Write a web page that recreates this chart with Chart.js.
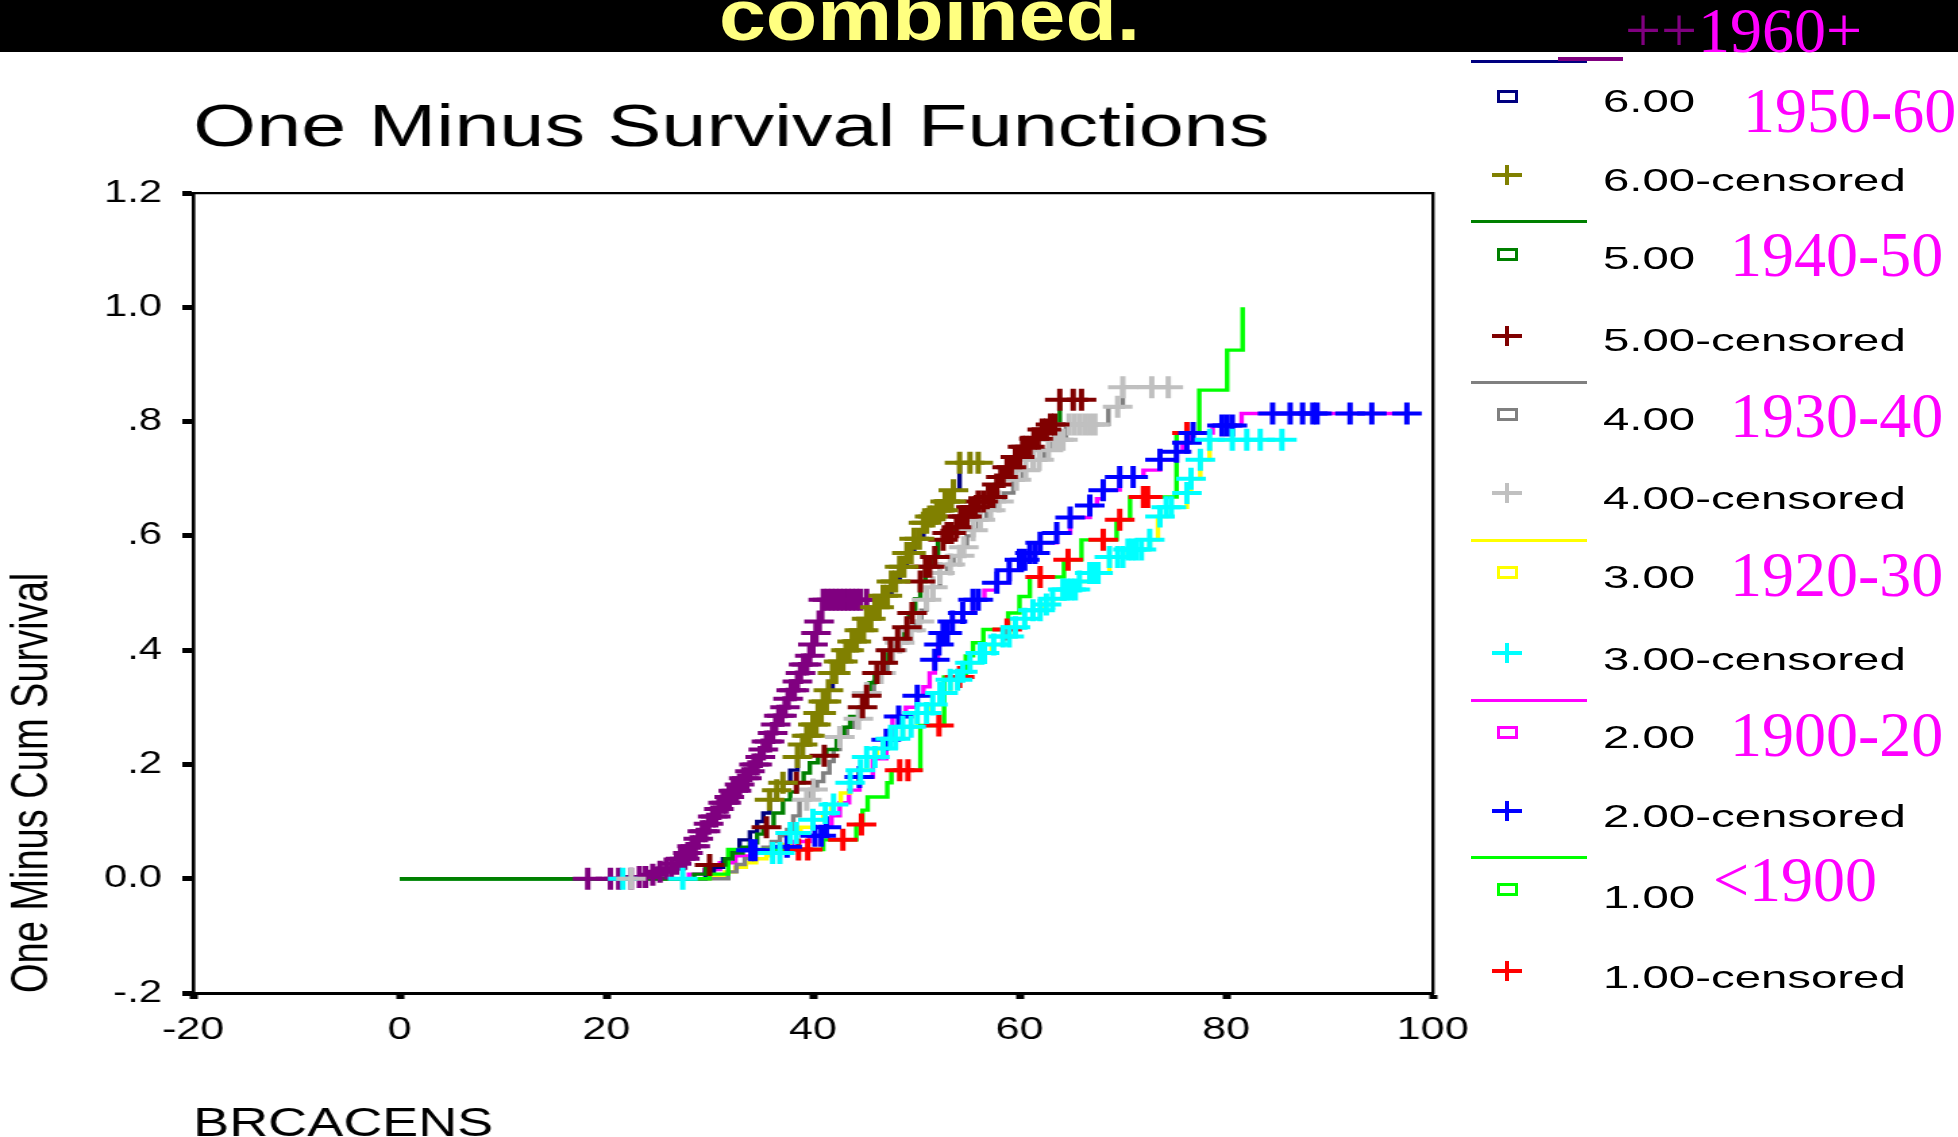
<!DOCTYPE html>
<html>
<head>
<meta charset="utf-8">
<title>One Minus Survival Functions</title>
<script src="https://cdn.jsdelivr.net/npm/chart.js@4.4.1/dist/chart.umd.min.js"></script>
<style>
  html, body { margin: 0; padding: 0; background: #fff; }
  #page { position: relative; width: 1958px; height: 1137px; overflow: hidden; font-family: 'Liberation Sans', Arial, sans-serif; }
  #band { position: absolute; left: 0; top: 0; width: 1958px; height: 52px; background: #000; overflow: hidden; }
  #band span { position: absolute; left: 719px; top: -21px; font: bold 72px/72px 'Liberation Sans', Arial, sans-serif; color: #ffff80; transform: scaleX(1.17); transform-origin: 0 0; white-space: nowrap; }
  /* the chart is drawn 1450 wide and stretched, like the pasted picture */
  #chart { position: absolute; left: 0; top: 0; }
  .key-line { position: absolute; left: 1471px; width: 116px; height: 3px; }
  .key-box { position: absolute; left: 1497px; width: 21px; height: 13px; box-sizing: border-box; border: 3px solid; }
  .key-h { position: absolute; left: 1492px; width: 30px; height: 3.5px; }
  .key-v { position: absolute; left: 1505px; width: 3.5px; height: 20px; }
  .key-text { position: absolute; left: 1603px; font-size: 32px; line-height: 32px; color: #000; white-space: nowrap; transform: scaleX(1.48); transform-origin: 0 0; }
  .era { position: absolute; font: 64px/64px 'Liberation Serif', 'Times New Roman', serif; color: #ff00ff; white-space: nowrap; }
</style>
</head>
<body>
<div id="page">
  <div id="band"><span>combined.</span></div>
  <canvas id="chart" width="1450" height="1137" style="width:1958px;height:1137px"></canvas>
  <div id="key"></div>
</div>
<script>
// group codes and the birth cohorts written next to them
const groups = ['6.00', '5.00', '4.00', '3.00', '2.00', '1.00'];
const eras = ['1950-60', '1940-50', '1930-40', '1920-30', '1900-20', '<1900'];
const xTickLabels = ['-20', '0', '20', '40', '60', '80', '100'];
const yTickLabels = ['-.2', '0.0', '.2', '.4', '.6', '.8', '1.0', '1.2'];

// step curves: [time, one minus cum survival] at each event
const curve6 = [[0,0],[29.6,0.01],[30.4,0.02],[31.3,0.035],[32.2,0.05],[32.9,0.068],[33.9,0.082],[34.6,0.1],[35.2,0.115],[35.8,0.138],[36.5,0.155],[37.1,0.168],[37.8,0.19],[38.5,0.213],[39.0,0.235],[39.4,0.25],[40.0,0.27],[40.5,0.29],[41.0,0.31],[41.5,0.33],[41.9,0.36],[42.5,0.38],[43.2,0.4],[43.8,0.415],[44.5,0.435],[45.2,0.455],[46.0,0.475],[46.8,0.495],[47.6,0.52],[48.4,0.546],[49.1,0.57],[49.8,0.595],[50.7,0.623],[51.3,0.634],[52.0,0.645],[52.8,0.66],[53.6,0.68],[54.2,0.728],[56.0,0.728]];
const curve5 = [[0,0],[28.5,0.008],[29.6,0.024],[31.5,0.035],[32.2,0.045],[33.2,0.055],[33.9,0.063],[34.6,0.078],[35.2,0.09],[36.2,0.115],[37.1,0.138],[37.8,0.152],[38.4,0.168],[39.1,0.185],[39.7,0.203],[40.5,0.215],[41.3,0.226],[42.3,0.248],[43.0,0.265],[43.6,0.284],[44.5,0.3],[45.0,0.32],[45.5,0.343],[46.0,0.36],[46.5,0.378],[47.3,0.4],[48.0,0.42],[48.7,0.44],[49.3,0.465],[49.9,0.49],[50.4,0.52],[50.9,0.546],[51.4,0.563],[52.1,0.593],[52.8,0.605],[53.5,0.615],[54.2,0.634],[55.0,0.65],[56.0,0.66],[56.8,0.668],[57.6,0.69],[58.2,0.703],[58.8,0.72],[59.4,0.738],[60.3,0.756],[61.2,0.77],[62.0,0.786],[62.8,0.795],[63.9,0.838],[66.0,0.838]];
const curve4 = [[0,0],[31.8,0.012],[32.6,0.025],[33.4,0.035],[34.3,0.045],[35.2,0.055],[36.0,0.065],[36.8,0.075],[37.5,0.086],[38.1,0.11],[38.7,0.138],[39.7,0.156],[40.4,0.17],[41.0,0.185],[41.6,0.205],[42.0,0.226],[42.6,0.248],[43.3,0.265],[43.9,0.28],[44.6,0.3],[45.2,0.325],[45.9,0.345],[46.5,0.36],[47.2,0.378],[47.7,0.4],[48.4,0.413],[49.1,0.435],[49.8,0.45],[50.5,0.47],[51.0,0.488],[51.6,0.51],[52.3,0.535],[53.0,0.55],[53.6,0.565],[54.4,0.58],[54.9,0.6],[55.5,0.61],[56.0,0.628],[56.8,0.645],[57.6,0.66],[58.5,0.675],[59.4,0.698],[60.3,0.715],[61.3,0.733],[62.4,0.75],[63.2,0.768],[64.5,0.795],[68.6,0.826],[70.0,0.86],[74.4,0.86]];
const curve3 = [[0,0],[30.0,0.005],[31.5,0.012],[32.5,0.02],[33.5,0.028],[34.5,0.035],[35.5,0.04],[36.1,0.045],[37.0,0.06],[37.8,0.08],[38.8,0.09],[40.0,0.103],[41.0,0.115],[41.8,0.13],[42.7,0.15],[43.6,0.168],[44.4,0.19],[45.2,0.213],[46.2,0.228],[47.3,0.245],[48.7,0.266],[50.1,0.29],[51.3,0.305],[52.3,0.325],[53.3,0.348],[54.2,0.362],[55.2,0.378],[56.2,0.395],[57.3,0.41],[58.4,0.424],[59.5,0.44],[60.5,0.455],[61.3,0.47],[62.3,0.48],[63.2,0.49],[64.2,0.506],[65.5,0.52],[66.8,0.535],[68.7,0.563],[70.5,0.576],[72.6,0.593],[73.4,0.634],[74.2,0.65],[76.2,0.675],[76.6,0.7],[77.5,0.733],[78.4,0.768],[85.4,0.768]];
const curve2 = [[0,0],[28.0,0.008],[29.5,0.016],[31.0,0.028],[32.5,0.04],[34.0,0.05],[36.0,0.056],[38.0,0.065],[39.7,0.075],[41.0,0.09],[41.8,0.11],[42.6,0.133],[43.5,0.155],[44.5,0.178],[45.8,0.21],[47.1,0.243],[47.7,0.284],[49.0,0.3],[50.1,0.32],[50.7,0.336],[51.3,0.36],[51.8,0.383],[52.1,0.41],[52.6,0.43],[53.5,0.45],[54.5,0.465],[55.5,0.488],[56.6,0.505],[57.8,0.518],[59.0,0.54],[60.0,0.558],[61.0,0.57],[62.0,0.588],[63.6,0.605],[64.9,0.632],[66.8,0.653],[67.5,0.665],[68.1,0.68],[69.7,0.703],[72.0,0.715],[73.6,0.733],[75.2,0.747],[75.8,0.763],[76.5,0.78],[78.7,0.793],[81.5,0.814],[97.5,0.814]];
const curve1 = [[0,0],[30.0,0.008],[31.8,0.051],[41.0,0.068],[44.2,0.095],[44.8,0.12],[45.3,0.143],[47.2,0.168],[47.6,0.19],[50.4,0.268],[52.7,0.353],[54.8,0.39],[55.5,0.413],[56.5,0.436],[58.9,0.465],[60.0,0.494],[61.0,0.528],[64.3,0.558],[66.0,0.593],[69.4,0.628],[70.7,0.668],[75.2,0.78],[77.4,0.855],[80.1,0.925],[81.6,1.0]];
const curve7 = [[0,0],[23.0,0.003],[24.0,0.007],[25.0,0.012],[25.8,0.018],[26.5,0.026],[27.2,0.035],[27.8,0.045],[28.3,0.057],[28.8,0.07],[29.3,0.083],[29.8,0.096],[30.3,0.109],[30.8,0.122],[31.3,0.133],[31.8,0.143],[32.3,0.154],[32.8,0.165],[33.3,0.176],[33.8,0.188],[34.3,0.2],[34.7,0.213],[35.1,0.226],[35.5,0.24],[35.9,0.255],[36.3,0.27],[36.7,0.285],[37.1,0.3],[37.5,0.315],[37.9,0.33],[38.3,0.345],[38.7,0.36],[39.1,0.375],[39.5,0.39],[39.9,0.41],[40.3,0.43],[40.6,0.45],[40.9,0.488],[45.2,0.488]];

// censoring times, the mark sits on its group's curve
const cens6 = [35.8,36.5,37.1,38.5,39.0,39.4,39.7,40.0,40.3,40.5,40.8,41.0,41.3,41.5,41.9,42.2,42.5,42.9,43.2,43.5,43.8,44.2,44.5,44.9,45.2,45.6,46.0,46.4,46.8,47.2,47.6,48.0,48.4,48.8,49.1,49.5,49.8,50.3,50.7,51.0,51.3,51.6,52.0,52.3,52.6,52.8,53.1,53.4,53.6,54.2,55.2,56.0];
const cens5 = [30.0,35.5,38.4,41.1,44.8,45.2,46.2,46.8,47.5,48.2,49.1,49.6,50.4,50.9,51.3,51.8,52.6,53.0,53.4,53.9,54.3,54.6,54.9,55.3,55.7,56.0,56.5,57.0,57.4,57.8,58.2,58.4,58.8,59.2,59.6,60.0,60.3,60.6,61.0,61.4,61.8,62.2,62.6,63.0,63.4,63.9,65.2,66.0];
const cens4 = [22.4,39.4,40.0,42.6,44.4,45.2,46.6,47.7,48.4,49.5,50.3,51.0,51.6,52.3,53.3,54.2,54.6,55.5,56.2,57.2,58.0,59.7,60.6,61.3,61.9,62.8,63.4,63.8,64.2,64.8,65.3,65.8,66.3,66.8,67.3,69.5,70.0,72.8,74.4];
const cens3 = [21.6,27.4,36.1,36.8,37.8,38.4,40.0,41.2,42.0,43.6,44.6,45.2,46.0,46.8,47.5,48.0,48.7,49.5,50.1,51.0,51.6,52.3,52.6,53.3,54.0,54.5,55.2,56.2,56.6,57.5,58.4,59.0,59.6,60.5,61.3,62.0,62.6,63.2,64.2,64.6,65.0,65.4,65.8,66.8,67.2,67.6,68.7,69.5,70.0,70.5,70.9,71.3,71.8,72.6,73.6,74.2,74.7,76.2,76.6,77.5,78.4,80.6,82.0,83.3,85.4];
const cens2 = [34.0,34.4,37.5,40.2,40.8,41.3,44.5,47.1,48.3,50.1,51.8,52.2,52.6,53.0,53.5,54.5,55.5,56.0,57.8,59.0,60.0,60.5,61.0,61.5,62.0,63.6,64.9,66.8,68.1,69.7,71.0,73.6,75.2,76.2,76.8,79.6,80.1,80.6,84.5,86.2,87.4,88.4,88.8,92.0,94.1,97.5];
const cens1 = [38.6,39.5,42.9,44.7,48.4,49.2,52.2,54.2,58.8,62.0,64.7,68.1,69.7,72.0,72.4,76.2];
const cens7 = [18.2,20.4,21.2,22.4,23.2,23.8,24.5,25.2,25.8,26.3,26.8,27.2,27.6,27.9,28.3,28.6,28.9,29.3,29.6,29.9,30.3,30.6,30.9,31.3,31.6,31.9,32.3,32.6,32.9,33.3,33.6,33.9,34.3,34.6,34.9,35.2,35.5,35.8,36.1,36.4,36.7,37.0,37.3,37.6,37.9,38.2,38.5,38.8,39.1,39.4,39.7,40.0,40.3,40.6,41.0,41.4,41.8,42.2,42.6,43.0,43.4,43.8,44.2,44.6,45.2];

const curves = [curve6, curve5, curve4, curve3, curve2, curve1, curve7];
const censored = [cens6, cens5, cens4, cens3, cens2, cens1, cens7];
const names = groups.concat(['7.00']);
const lineColors = ['#000080', '#008000', '#808080', '#ffff00', '#ff00ff', '#00ff00', '#800080'];
const markColors = ['#808000', '#800000', '#c0c0c0', '#00ffff', '#0000ff', '#ff0000', '#800080'];
// which step line sits on top where they overlap (lower = on top)
const lineOrder = [6, 2, 6, 6, 6, 3, 6];

// level of a step curve at time t
function levelAt(curve, t) {
  let level = 0;
  curve.forEach(p => { if (p[0] <= t + 1e-9) level = p[1]; });
  return level;
}

const datasets = [];
curves.forEach((c, i) => {
  datasets.push({
    label: names[i],
    data: c.map(p => ({ x: p[0], y: p[1] })),
    borderColor: lineColors[i],
    borderWidth: 3.4,
    stepped: true,
    pointRadius: 0,
    fill: false,
    order: lineOrder[i]
  });
  datasets.push({
    label: names[i] + '-censored',
    data: censored[i].map(t => ({ x: t, y: levelAt(c, t) })),
    showLine: false,
    pointStyle: 'cross',
    pointRadius: 11,
    pointBorderWidth: 4,
    pointBorderColor: markColors[i],
    borderColor: markColors[i],
    order: 1
  });
});

Chart.defaults.font.family = "'Liberation Sans', Arial, Helvetica, sans-serif";
Chart.defaults.color = '#000';

new Chart(document.getElementById('chart').getContext('2d'), {
  type: 'line',
  data: { datasets: datasets },
  options: {
    responsive: false,
    devicePixelRatio: 1,
    animation: false,
    events: [],
    layout: { padding: { top: 93, right: 389, bottom: 0, left: 0 } },
    plugins: {
      legend: { display: false },
      tooltip: { enabled: false },
      title: {
        display: true,
        text: 'One Minus Survival Functions',
        align: 'start',
        fullSize: false,
        color: '#000',
        font: { size: 60, weight: 'normal', lineHeight: 1.2 },
        padding: { top: 0, bottom: 28 }
      }
    },
    scales: {
      x: {
        type: 'linear', position: 'bottom', min: -20, max: 100,
        afterFit: s => { s.height = 144; },
        border: { color: '#000', width: 3 },
        grid: { drawOnChartArea: false, color: '#000', tickLength: 6, tickWidth: 6 },
        ticks: { stepSize: 20, autoSkip: false, maxRotation: 0, padding: 12, font: { size: 32 },
                 callback: (v, i) => xTickLabels[i] },
        title: { display: true, text: 'BRCACENS', align: 'start', font: { size: 40, lineHeight: 0.6 }, padding: 0 }
      },
      y: {
        type: 'linear', position: 'left', min: -0.2, max: 1.2,
        afterFit: s => { s.width = 143; },
        border: { color: '#000', width: 2.6 },
        grid: { drawOnChartArea: false, color: '#000', tickLength: 8, tickWidth: 5 },
        ticks: { stepSize: 0.2, padding: 15, font: { size: 31 },
                 callback: (v, i) => yTickLabels[i] },
        title: { display: true, text: 'One Minus Cum Survival', align: 'start', font: { size: 38, lineHeight: 1.2 }, padding: { top: 2, bottom: 0 } }
      },
      x2: {
        type: 'linear', position: 'top', min: -20, max: 100,
        afterFit: s => { s.height = 0; },
        grid: { display: false }, ticks: { display: false },
        border: { color: '#000', width: 2.3 }
      },
      y2: {
        type: 'linear', position: 'right', min: -0.2, max: 1.2,
        afterFit: s => { s.width = 0; },
        grid: { display: false }, ticks: { display: false },
        border: { color: '#000', width: 2.4 }
      }
    }
  }
});

// legend, drawn the SPSS way: line, box, censor cross for each group
const keyLineY = [61, 221, 382, 540, 700, 857];
const keyBoxY = [96, 254, 414, 572, 732, 889];
const keyPlusY = [175, 336, 493, 653, 811, 971];
const keyTextY = [101, 180, 258, 340, 419, 498, 577, 659, 737, 816, 897, 977];
const eraBaseline = [133, 277, 438, 597, 757, 902];
const eraLeft = [1743, 1730, 1730, 1730, 1730, 1713];

const key = document.getElementById('key');
function add(cls, css, text) {
  const el = document.createElement('div');
  el.className = cls;
  Object.assign(el.style, css);
  if (text) el.textContent = text;
  key.appendChild(el);
}
groups.forEach((g, i) => {
  add('key-line', { top: (keyLineY[i] - 1.5) + 'px', background: lineColors[i] });
  add('key-box', { top: (keyBoxY[i] - 6.5) + 'px', borderColor: lineColors[i] });
  add('key-h', { top: (keyPlusY[i] - 1.75) + 'px', background: markColors[i] });
  add('key-v', { top: (keyPlusY[i] - 10) + 'px', background: markColors[i] });
  add('key-text', { top: (keyTextY[2 * i] - 16) + 'px' }, g);
  add('key-text', { top: (keyTextY[2 * i + 1] - 16) + 'px' }, g + '-censored');
  add('era', { left: eraLeft[i] + 'px', top: (eraBaseline[i] - 53.6) + 'px' }, eras[i]);
});
// the newest cohort, whose key is cut off at the top
add('key-line', { left: '1558px', width: '65px', top: '57px', height: '4px', background: '#800080' });
add('era', { left: '1625px', top: (53 - 53.6) + 'px', color: '#800080' }, '++');
add('era', { left: '1698px', top: (53 - 53.6) + 'px' }, '1960+');
</script>
</body>
</html>
